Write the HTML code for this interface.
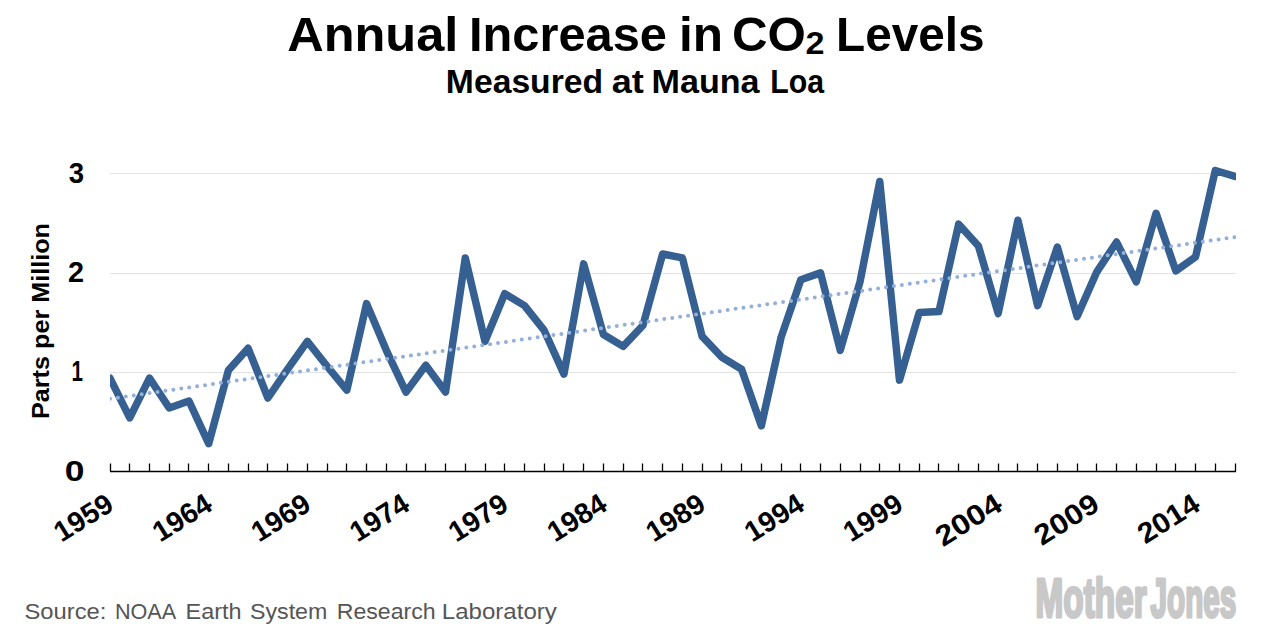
<!DOCTYPE html>
<html><head><meta charset="utf-8"><style>
html,body{margin:0;padding:0;background:#fff;width:1273px;height:632px;overflow:hidden}
svg{position:absolute;left:0;top:0}
text{font-family:"Liberation Sans",sans-serif}
</style></head><body>
<svg width="1273" height="632" viewBox="0 0 1273 632">
<defs><clipPath id="c"><rect x="110" y="100" width="1126" height="371.5"/></clipPath></defs>
<g font-weight="bold"><text x="287.17" y="51.00" font-size="49.00" textLength="171.17" lengthAdjust="spacingAndGlyphs">Annual</text><text x="469.02" y="51.00" font-size="49.00" textLength="197.85" lengthAdjust="spacingAndGlyphs">Increase</text><text x="678.97" y="51.00" font-size="49.00" textLength="44.02" lengthAdjust="spacingAndGlyphs">in</text><text x="731.99" y="51.00" font-size="49.00" textLength="73.92" lengthAdjust="spacingAndGlyphs">CO</text><text x="805.60" y="53.60" font-size="31.00" textLength="18.98" lengthAdjust="spacingAndGlyphs">2</text><text x="836.08" y="51.00" font-size="49.00" textLength="148.51" lengthAdjust="spacingAndGlyphs">Levels</text></g>
<g font-weight="bold"><text x="445.86" y="93.00" font-size="33.00" textLength="157.25" lengthAdjust="spacingAndGlyphs">Measured</text><text x="611.71" y="93.00" font-size="33.00" textLength="32.07" lengthAdjust="spacingAndGlyphs">at</text><text x="651.53" y="93.00" font-size="33.00" textLength="108.07" lengthAdjust="spacingAndGlyphs">Mauna</text><text x="770.36" y="93.00" font-size="33.00" textLength="53.83" lengthAdjust="spacingAndGlyphs">Loa</text></g>
<g stroke="#e3e3e3" stroke-width="1" fill="none">
<path d="M110 173.5H1236M110 273.5H1236M110 372.5H1236"/>
</g>
<g font-weight="bold" font-size="29.00"><text x="68.85" y="182.80" textLength="15.33" lengthAdjust="spacingAndGlyphs">3</text><text x="67.91" y="281.60" textLength="16.03" lengthAdjust="spacingAndGlyphs">2</text><text x="71.58" y="380.90" textLength="11.42" lengthAdjust="spacingAndGlyphs">1</text><text x="64.78" y="480.70" textLength="19.71" lengthAdjust="spacingAndGlyphs">0</text></g>
<text transform="translate(48.50 419.00) rotate(-90)" font-weight="bold" font-size="23.50" textLength="196.00" lengthAdjust="spacingAndGlyphs">Parts per Million</text>
<g clip-path="url(#c)">
<polyline points="110.00,378.13 129.74,417.86 149.47,378.13 169.21,407.93 188.95,400.98 208.69,443.69 228.42,370.18 248.16,348.33 267.90,398.00 287.63,369.19 307.37,341.38 327.11,366.21 346.84,390.05 366.58,303.63 386.32,350.32 406.05,392.04 425.79,365.22 445.53,392.04 465.27,257.94 485.00,341.38 504.74,293.70 524.48,305.62 544.21,330.45 563.95,374.16 583.69,263.90 603.42,334.42 623.16,346.34 642.90,325.48 662.64,253.97 682.37,257.94 702.11,336.41 721.85,357.27 741.58,369.19 761.32,425.81 781.06,337.40 800.79,279.79 820.53,272.84 840.27,350.32 860.01,281.78 879.74,181.46 899.48,380.12 919.22,312.57 938.95,311.58 958.69,224.17 978.43,246.02 998.16,313.57 1017.90,220.20 1037.64,305.62 1057.38,247.01 1077.11,316.55 1096.85,271.85 1116.59,242.05 1136.32,281.78 1156.06,213.24 1175.80,270.85 1195.53,256.95 1215.27,170.53 1235.01,176.49" fill="none" stroke="#366091" stroke-width="7.5" stroke-linejoin="round" stroke-linecap="round"/>
<line x1="110.00" y1="398.79" x2="1235.01" y2="237.08" stroke="#94b0d8" stroke-width="4" stroke-linecap="round" stroke-dasharray="0 8"/>
</g>
<path d="M110 471.5H1236M110.5 471.5V463.5M129.5 471.5V463.5M149.5 471.5V463.5M169.5 471.5V463.5M188.5 471.5V463.5M208.5 471.5V463.5M228.5 471.5V463.5M248.5 471.5V463.5M267.5 471.5V463.5M287.5 471.5V463.5M307.5 471.5V463.5M327.5 471.5V463.5M346.5 471.5V463.5M366.5 471.5V463.5M386.5 471.5V463.5M406.5 471.5V463.5M425.5 471.5V463.5M445.5 471.5V463.5M465.5 471.5V463.5M485.5 471.5V463.5M504.5 471.5V463.5M524.5 471.5V463.5M544.5 471.5V463.5M563.5 471.5V463.5M583.5 471.5V463.5M603.5 471.5V463.5M623.5 471.5V463.5M642.5 471.5V463.5M662.5 471.5V463.5M682.5 471.5V463.5M702.5 471.5V463.5M721.5 471.5V463.5M741.5 471.5V463.5M761.5 471.5V463.5M781.5 471.5V463.5M800.5 471.5V463.5M820.5 471.5V463.5M840.5 471.5V463.5M860.5 471.5V463.5M879.5 471.5V463.5M899.5 471.5V463.5M919.5 471.5V463.5M938.5 471.5V463.5M958.5 471.5V463.5M978.5 471.5V463.5M998.5 471.5V463.5M1017.5 471.5V463.5M1037.5 471.5V463.5M1057.5 471.5V463.5M1077.5 471.5V463.5M1096.5 471.5V463.5M1116.5 471.5V463.5M1136.5 471.5V463.5M1156.5 471.5V463.5M1175.5 471.5V463.5M1195.5 471.5V463.5M1215.5 471.5V463.5M1235.5 471.5V463.5" stroke="#000" stroke-width="1.3" fill="none"/>
<g font-weight="bold" font-size="28.60"><text transform="translate(115.50 509.00) rotate(-32)" text-anchor="end">1959</text><text transform="translate(214.19 509.00) rotate(-32)" text-anchor="end">1964</text><text transform="translate(312.87 509.00) rotate(-32)" text-anchor="end">1969</text><text transform="translate(411.55 509.00) rotate(-32)" text-anchor="end">1974</text><text transform="translate(510.24 509.00) rotate(-32)" text-anchor="end">1979</text><text transform="translate(608.92 509.00) rotate(-32)" text-anchor="end">1984</text><text transform="translate(707.61 509.00) rotate(-32)" text-anchor="end">1989</text><text transform="translate(806.29 509.00) rotate(-32)" text-anchor="end">1994</text><text transform="translate(904.98 509.00) rotate(-32)" text-anchor="end">1999</text><text transform="translate(1004.16 509.00) rotate(-32)" text-anchor="end" textLength="72.00" lengthAdjust="spacingAndGlyphs">2004</text><text transform="translate(1101.35 509.00) rotate(-32)" text-anchor="end" textLength="70.20" lengthAdjust="spacingAndGlyphs">2009</text><text transform="translate(1202.03 509.00) rotate(-32)" text-anchor="end" textLength="67.10" lengthAdjust="spacingAndGlyphs">2014</text></g>
<g fill="#555" font-size="22.80"><text x="24.46" y="618.90" textLength="81.89" lengthAdjust="spacingAndGlyphs">Source:</text><text x="114.90" y="618.90" textLength="61.33" lengthAdjust="spacingAndGlyphs">NOAA</text><text x="185.55" y="618.90" textLength="56.00" lengthAdjust="spacingAndGlyphs">Earth</text><text x="249.98" y="618.90" textLength="77.35" lengthAdjust="spacingAndGlyphs">System</text><text x="336.77" y="618.90" textLength="98.93" lengthAdjust="spacingAndGlyphs">Research</text><text x="441.89" y="618.90" textLength="114.91" lengthAdjust="spacingAndGlyphs">Laboratory</text></g>
<g font-weight="bold" font-size="55.00" fill="#c8c8c8" stroke="#c8c8c8" stroke-width="3.20" stroke-linejoin="round"><text x="1035.57" y="617.40" textLength="111.23" lengthAdjust="spacingAndGlyphs">Mother</text><text x="1150.56" y="617.40" textLength="85.80" lengthAdjust="spacingAndGlyphs">Jones</text></g>
</svg>
</body></html>
